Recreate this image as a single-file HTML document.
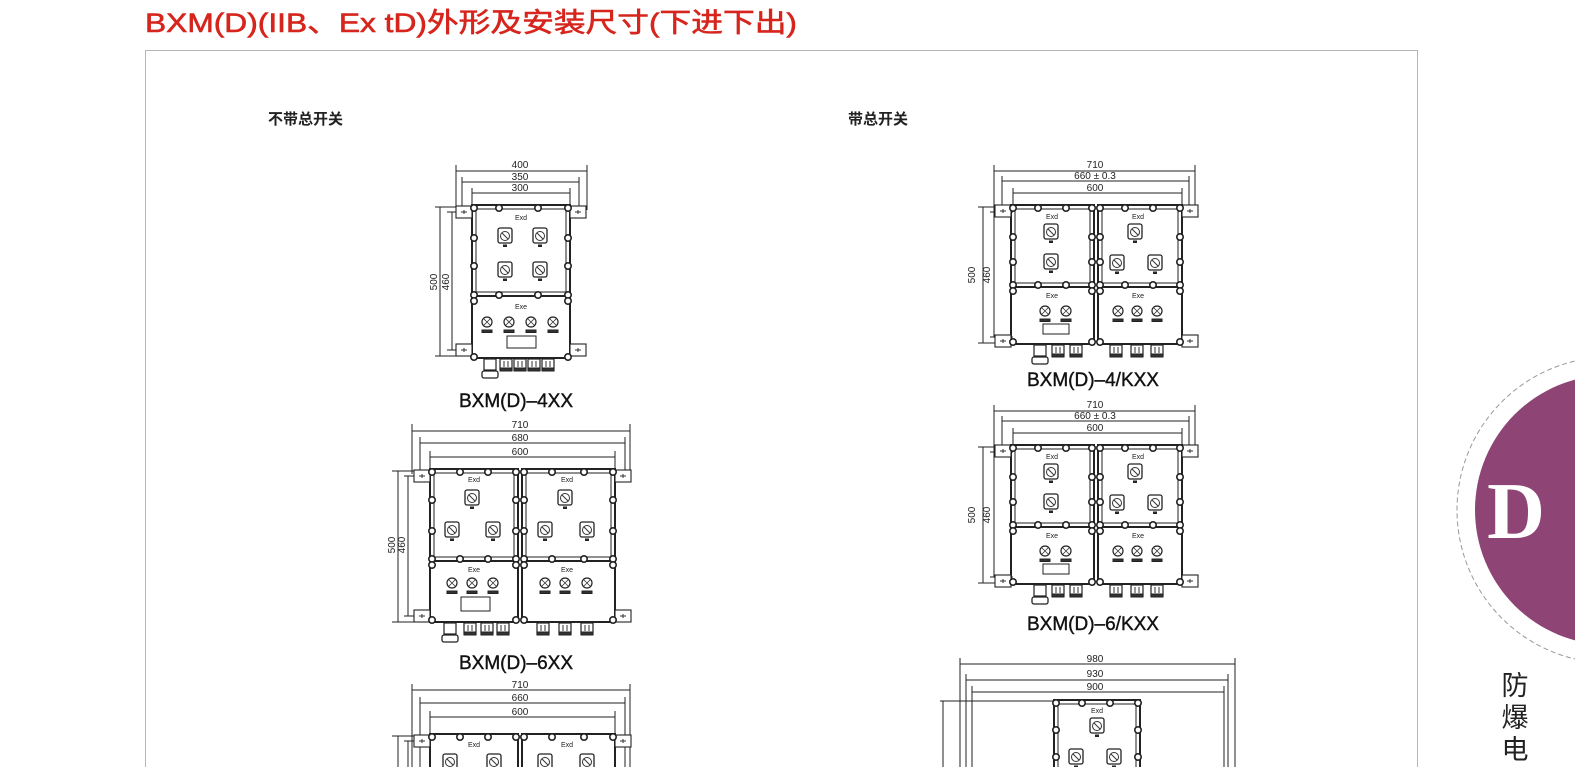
<!DOCTYPE html>
<html><head><meta charset="utf-8"><style>
html,body{margin:0;padding:0;background:#fff;width:1575px;height:767px;overflow:hidden}
svg{display:block}
</style></head><body>
<svg width="1575" height="767" viewBox="0 0 1575 767" xmlns="http://www.w3.org/2000/svg" font-family="Liberation Sans, Noto Sans CJK SC, sans-serif">
<defs>
<g id="b"><circle r="3.2" fill="#fff" stroke="#222" stroke-width="1.6"/></g>
<g id="sw"><rect x="-7" y="-8" width="14" height="15" rx="2" fill="#fff" stroke="#222" stroke-width="1.3"/><circle r="4.5" fill="none" stroke="#333" stroke-width="1"/><line x1="-3" y1="-3" x2="3" y2="3" stroke="#333"/><rect x="-1.5" y="9" width="3" height="1.5" fill="#333"/></g>
<g id="lp"><circle r="5" fill="#fff" stroke="#222" stroke-width="1.2"/><path d="M-3-3L3 3M3-3L-3 3" stroke="#333" stroke-width=".8"/><rect x="-5" y="8" width="10" height="2.5" fill="#333"/></g>
<g id="gl"><rect x="-6" y="0" width="12" height="11" fill="#fff" stroke="#222" stroke-width="1.2"/><line x1="-2" y1="2" x2="-2" y2="8" stroke="#333"/><line x1="2" y1="2" x2="2" y2="8" stroke="#333"/><rect x="-6" y="9" width="12" height="3" fill="#333"/></g>
<g id="gb"><rect x="-6" y="0" width="12" height="11" fill="#fff" stroke="#222" stroke-width="1.2"/><rect x="-8" y="12" width="16" height="7" rx="2" fill="#fff" stroke="#222" stroke-width="1.3"/></g>
<g id="brL"><rect x="-16" y="-6" width="16" height="12" fill="#fff" stroke="#222" stroke-width="1.1"/><path d="M-11 0h6M-8-2v4" stroke="#333"/></g>
<g id="brR"><rect x="0" y="-6" width="16" height="12" fill="#fff" stroke="#222" stroke-width="1.1"/><path d="M5 0h6M8-2v4" stroke="#333"/></g>
</defs>

<text x="145" y="32" font-size="27" fill="#d6251d" stroke="#d6251d" stroke-width="0.6" textLength="652" lengthAdjust="spacingAndGlyphs">BXM(D)(IIB、Ex tD)外形及安装尺寸(下进下出)</text>
<rect x="145.5" y="50.5" width="1272" height="730" fill="none" stroke="#b5b5b5" stroke-width="1"/>
<text x="268" y="124" font-size="15" font-weight="bold" fill="#222">不带总开关</text>
<text x="848" y="124" font-size="15" font-weight="bold" fill="#222">带总开关</text>

<g stroke="#222" stroke-width="1" fill="none">
<g>
<path d="M456 165v45M587 165v45M462 177v30M579 177v30M472 188v17M570 188v17"/>
<path d="M456 171h131M462 182h117M472 193h98"/>
<path d="M435 207h37M447 212h25M435 356h37M447 350h25M440 207v149M452 212v138"/>
<rect x="472" y="205" width="98" height="91" stroke-width="2"/>
<rect x="476" y="209" width="90" height="83"/>
<rect x="472" y="296" width="98" height="62" stroke-width="2"/>
<use href="#brL" x="472" y="212"/><use href="#brR" x="570" y="212"/>
<use href="#brL" x="472" y="350"/><use href="#brR" x="570" y="350"/>
<use href="#b" x="474" y="208"/><use href="#b" x="499" y="208"/><use href="#b" x="538" y="208"/><use href="#b" x="568" y="208"/>
<use href="#b" x="474" y="238"/><use href="#b" x="568" y="238"/><use href="#b" x="474" y="266"/><use href="#b" x="568" y="266"/>
<use href="#b" x="474" y="295"/><use href="#b" x="499" y="295"/><use href="#b" x="538" y="295"/><use href="#b" x="568" y="295"/>
<use href="#b" x="474" y="301"/><use href="#b" x="568" y="301"/><use href="#b" x="474" y="357"/><use href="#b" x="568" y="357"/>
<use href="#sw" x="505" y="236"/><use href="#sw" x="540" y="236"/><use href="#sw" x="505" y="270"/><use href="#sw" x="540" y="270"/>
<use href="#lp" x="487" y="322"/><use href="#lp" x="509" y="322"/><use href="#lp" x="531" y="322"/><use href="#lp" x="553" y="322"/>
<rect x="507" y="336" width="29" height="12"/>
<use href="#gb" x="490" y="359"/><use href="#gl" x="506" y="359"/><use href="#gl" x="520" y="359"/><use href="#gl" x="534" y="359"/><use href="#gl" x="548" y="359"/>
</g>

<g>
<path d="M412 424v50M630 424v50M420 437v33M625 437v33M430 451v19M615 451v19"/>
<path d="M412 431h218M420 443h205M430 457h185"/>
<path d="M392 471h38M404 476h26M392 622h38M404 616h26M398 471v151M408 476v140"/>
<rect x="430" y="469" width="88" height="92" stroke-width="2"/><rect x="522" y="469" width="93" height="92" stroke-width="2"/>
<rect x="430" y="561" width="88" height="61" stroke-width="2"/><rect x="522" y="561" width="93" height="61" stroke-width="2"/>
<rect x="434" y="473" width="80" height="84"/><rect x="526" y="473" width="85" height="84"/>
<use href="#brL" x="430" y="476"/><use href="#brR" x="615" y="476"/><use href="#brL" x="430" y="616"/><use href="#brR" x="615" y="616"/>
<use href="#b" x="432" y="472"/><use href="#b" x="460" y="472"/><use href="#b" x="488" y="472"/><use href="#b" x="516" y="472"/>
<use href="#b" x="524" y="472"/><use href="#b" x="552" y="472"/><use href="#b" x="584" y="472"/><use href="#b" x="613" y="472"/>
<use href="#b" x="432" y="500"/><use href="#b" x="516" y="500"/><use href="#b" x="524" y="500"/><use href="#b" x="613" y="500"/>
<use href="#b" x="432" y="531"/><use href="#b" x="516" y="531"/><use href="#b" x="524" y="531"/><use href="#b" x="613" y="531"/>
<use href="#b" x="432" y="559"/><use href="#b" x="460" y="559"/><use href="#b" x="488" y="559"/><use href="#b" x="516" y="559"/>
<use href="#b" x="524" y="559"/><use href="#b" x="552" y="559"/><use href="#b" x="584" y="559"/><use href="#b" x="613" y="559"/>
<use href="#b" x="432" y="565"/><use href="#b" x="516" y="565"/><use href="#b" x="524" y="565"/><use href="#b" x="613" y="565"/>
<use href="#b" x="432" y="620"/><use href="#b" x="516" y="620"/><use href="#b" x="524" y="620"/><use href="#b" x="613" y="620"/>
<use href="#sw" x="472" y="498"/><use href="#sw" x="452" y="530"/><use href="#sw" x="493" y="530"/>
<use href="#sw" x="565" y="498"/><use href="#sw" x="545" y="530"/><use href="#sw" x="587" y="530"/>
<use href="#lp" x="452" y="583"/><use href="#lp" x="472" y="583"/><use href="#lp" x="493" y="583"/>
<use href="#lp" x="545" y="583"/><use href="#lp" x="565" y="583"/><use href="#lp" x="587" y="583"/>
<rect x="461" y="597" width="29" height="14"/>
<use href="#gb" x="450" y="623"/><use href="#gl" x="470" y="623"/><use href="#gl" x="487" y="623"/><use href="#gl" x="503" y="623"/>
<use href="#gl" x="543" y="623"/><use href="#gl" x="565" y="623"/><use href="#gl" x="587" y="623"/>
</g>

<g>
<path d="M412 684v90M630 684v90M420 697v70M625 697v70M430 711v60M615 711v60"/>
<path d="M412 690h218M420 703h205M430 717h185"/>
<path d="M392 736h38M404 741h26M398 736v40M408 741v40"/>
<rect x="430" y="734" width="88" height="50" stroke-width="2"/><rect x="522" y="734" width="93" height="50" stroke-width="2"/>
<use href="#brL" x="430" y="741"/><use href="#brR" x="615" y="741"/>
<use href="#b" x="432" y="737"/><use href="#b" x="460" y="737"/><use href="#b" x="488" y="737"/><use href="#b" x="516" y="737"/>
<use href="#b" x="524" y="737"/><use href="#b" x="552" y="737"/><use href="#b" x="584" y="737"/><use href="#b" x="613" y="737"/>
<use href="#sw" x="450" y="762"/><use href="#sw" x="494" y="762"/><use href="#sw" x="545" y="762"/><use href="#sw" x="587" y="762"/>
</g>

<g id="d4k">
<path d="M994 165v50M1195 165v50M1002 176v35M1189 176v35M1013 188v20M1182 188v20"/>
<path d="M994 171h201M1002 181h187M1013 193h169"/>
<path d="M978 207h35M990 212h23M978 343h35M990 337h23M983 207v136M994 212v125"/>
<rect x="1011" y="205" width="83" height="82" stroke-width="2"/><rect x="1098" y="205" width="84" height="82" stroke-width="2"/>
<rect x="1011" y="287" width="83" height="57" stroke-width="2"/><rect x="1098" y="287" width="84" height="57" stroke-width="2"/>
<rect x="1015" y="209" width="75" height="74"/><rect x="1102" y="209" width="76" height="74"/>
<use href="#brL" x="1011" y="211"/><use href="#brR" x="1182" y="211"/><use href="#brL" x="1011" y="341"/><use href="#brR" x="1182" y="341"/>
<use href="#b" x="1013" y="208"/><use href="#b" x="1038" y="208"/><use href="#b" x="1066" y="208"/><use href="#b" x="1092" y="208"/>
<use href="#b" x="1100" y="208"/><use href="#b" x="1125" y="208"/><use href="#b" x="1153" y="208"/><use href="#b" x="1180" y="208"/>
<use href="#b" x="1013" y="237"/><use href="#b" x="1092" y="237"/><use href="#b" x="1100" y="237"/><use href="#b" x="1180" y="237"/>
<use href="#b" x="1013" y="262"/><use href="#b" x="1092" y="262"/><use href="#b" x="1100" y="262"/><use href="#b" x="1180" y="262"/>
<use href="#b" x="1013" y="285"/><use href="#b" x="1038" y="285"/><use href="#b" x="1066" y="285"/><use href="#b" x="1092" y="285"/>
<use href="#b" x="1100" y="285"/><use href="#b" x="1125" y="285"/><use href="#b" x="1153" y="285"/><use href="#b" x="1180" y="285"/>
<use href="#b" x="1013" y="291"/><use href="#b" x="1092" y="291"/><use href="#b" x="1100" y="291"/><use href="#b" x="1180" y="291"/>
<use href="#b" x="1013" y="342"/><use href="#b" x="1092" y="342"/><use href="#b" x="1100" y="342"/><use href="#b" x="1180" y="342"/>
<use href="#sw" x="1051" y="232"/><use href="#sw" x="1051" y="262"/>
<use href="#sw" x="1135" y="232"/><use href="#sw" x="1117" y="263"/><use href="#sw" x="1155" y="263"/>
<use href="#lp" x="1045" y="311"/><use href="#lp" x="1066" y="311"/>
<use href="#lp" x="1118" y="311"/><use href="#lp" x="1137" y="311"/><use href="#lp" x="1157" y="311"/>
<rect x="1043" y="324" width="26" height="10"/>
<use href="#gb" x="1040" y="345"/><use href="#gl" x="1058" y="345"/><use href="#gl" x="1076" y="345"/>
<use href="#gl" x="1116" y="345"/><use href="#gl" x="1137" y="345"/><use href="#gl" x="1157" y="345"/>
</g>
<use href="#d4k" x="0" y="240"/>

<g>
<path d="M960 658v110M1235 658v110M966 674v95M1228 674v95M972 686v85M1224 686v85"/>
<path d="M960 664h275M966 680h262M972 692h252"/>
<path d="M940 701h116M943 701v70"/>
<rect x="1054" y="700" width="86" height="70" stroke-width="2"/><rect x="1058" y="704" width="78" height="66"/>
<use href="#b" x="1056" y="703"/><use href="#b" x="1082" y="703"/><use href="#b" x="1110" y="703"/><use href="#b" x="1138" y="703"/>
<use href="#b" x="1056" y="730"/><use href="#b" x="1138" y="730"/><use href="#b" x="1056" y="757"/><use href="#b" x="1138" y="757"/>
<use href="#sw" x="1097" y="726"/><use href="#sw" x="1076" y="757"/><use href="#sw" x="1114" y="757"/>
</g>
</g>

<g font-size="10" fill="#222" text-anchor="middle">
<text x="520" y="168">400</text><text x="520" y="180">350</text><text x="520" y="191">300</text>
<text transform="translate(437,282) rotate(-90)">500</text><text transform="translate(449,282) rotate(-90)">460</text>
<text x="520" y="428">710</text><text x="520" y="441">680</text><text x="520" y="455">600</text>
<text transform="translate(395,545) rotate(-90)">500</text><text transform="translate(405,545) rotate(-90)">460</text>
<text x="520" y="688">710</text><text x="520" y="701">660</text><text x="520" y="715">600</text>
<text x="1095" y="168">710</text><text x="1095" y="179">660 ± 0.3</text><text x="1095" y="191">600</text>
<text transform="translate(975,275) rotate(-90)">500</text><text transform="translate(990,275) rotate(-90)">460</text>
<text x="1095" y="408">710</text><text x="1095" y="419">660 ± 0.3</text><text x="1095" y="431">600</text>
<text transform="translate(975,515) rotate(-90)">500</text><text transform="translate(990,515) rotate(-90)">460</text>
<text x="1095" y="662">980</text><text x="1095" y="677">930</text><text x="1095" y="690">900</text>
</g>
<g font-size="7" fill="#222" text-anchor="middle">
<text x="521" y="220">Exd</text><text x="521" y="309">Exe</text>
<text x="474" y="482">Exd</text><text x="567" y="482">Exd</text><text x="474" y="572">Exe</text><text x="567" y="572">Exe</text>
<text x="474" y="747">Exd</text><text x="567" y="747">Exd</text>
<text x="1052" y="219">Exd</text><text x="1138" y="219">Exd</text><text x="1052" y="298">Exe</text><text x="1138" y="298">Exe</text>
<text x="1052" y="459">Exd</text><text x="1138" y="459">Exd</text><text x="1052" y="538">Exe</text><text x="1138" y="538">Exe</text>
<text x="1097" y="713">Exd</text>
</g>
<g font-size="19" fill="#111" text-anchor="middle" stroke="#111" stroke-width="0.4">
<text x="516" y="407">BXM(D)–4XX</text>
<text x="516" y="669">BXM(D)–6XX</text>
<text x="1093" y="386">BXM(D)–4/KXX</text>
<text x="1093" y="630">BXM(D)–6/KXX</text>
</g>

<circle cx="1610" cy="510" r="153" fill="none" stroke="#999" stroke-width="1" stroke-dasharray="5,3"/>
<circle cx="1610" cy="510" r="135" fill="#8e4474"/>
<text x="1516" y="538" font-size="80" font-weight="bold" fill="#fff" text-anchor="middle" style="font-family:'Liberation Serif',serif">D</text>
<g font-size="27" fill="#222" text-anchor="middle" style="font-family:'Liberation Sans','Noto Sans CJK SC',sans-serif">
<text x="1515" y="695">防</text><text x="1515" y="727">爆</text><text x="1515" y="759">电</text>
</g>
</svg>
</body></html>
